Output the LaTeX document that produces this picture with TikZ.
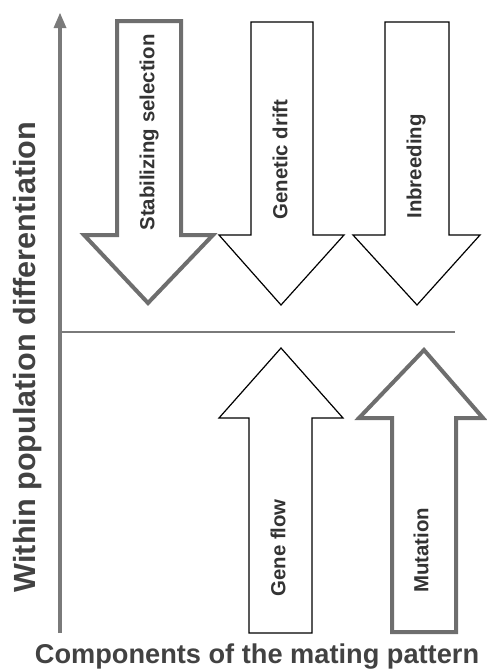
\documentclass[tikz,border=0pt]{standalone}
\usepackage{fontspec}
\setmainfont{Liberation Sans}
\begin{document}
\begin{tikzpicture}[x=0.5pt,y=-0.5pt,
  thickarrow/.style={draw=axisgray!90!black,line width=2pt,line join=miter,fill=white},
  thinarrow/.style={draw=black,line width=0.6pt,line join=miter,fill=white},
  axisline/.style={draw=axisgray},
  arrowlabel/.style={rotate=90,anchor=mid west,inner sep=0pt,text=labelgray,font=\bfseries\fontsize{10.2}{12}\selectfont},
  axislabel/.style={inner sep=0pt,text=labelgray!80!gray,font=\bfseries\fontsize{15.3}{18}\selectfont}]
\definecolor{axisgray}{HTML}{7A7A7A}
\definecolor{labelgray}{HTML}{333333}
\useasboundingbox (0,0) rectangle (487,669);
% axes
\draw[axisline,line width=2.2pt] (60,633) -- (60,26);
\fill[axisgray] (53.5,28) -- (66.5,28) -- (60,13) -- cycle;
\draw[axisline,line width=1.3pt] (60,332) -- (455,332);
% down arrows
\draw[thickarrow] (117,21) -- (181,21) -- (181,235) -- (213,235) -- (148,303) -- (84,235) -- (117,235) -- cycle;
\draw[thinarrow] (251,22) -- (313,22) -- (313,235) -- (344,235) -- (281,305) -- (219,235) -- (251,235) -- cycle;
\draw[thinarrow] (385,22) -- (449,22) -- (449,235) -- (480,235) -- (417,305) -- (353,235) -- (385,235) -- cycle;
% up arrows
\draw[thinarrow] (249,633) -- (312,633) -- (312,418) -- (343,418) -- (281,348) -- (219,418) -- (249,418) -- cycle;
\draw[thickarrow] (392,632) -- (456,632) -- (456,418) -- (483,418) -- (424,350) -- (359,418) -- (392,418) -- cycle;
% labels
\node[arrowlabel] (stab) at (149,231) {Stabilizing selection};
\node[arrowlabel] (drift) at (282,220) {Genetic drift};
\node[arrowlabel] (inbr) at (416,219) {Inbreeding};
\node[arrowlabel] (flow) at (280,597) {Gene flow};
\node[arrowlabel] (mut) at (423,593) {Mutation};
\node[axislabel,rotate=90,anchor=base] (ylab) at (35,357) {Within population differentiation};
\node[axislabel,anchor=base,font=\bfseries\fontsize{13.6}{16}\selectfont] (xlab) at (257,663) {Components of the mating pattern};
\end{tikzpicture}
\end{document}
